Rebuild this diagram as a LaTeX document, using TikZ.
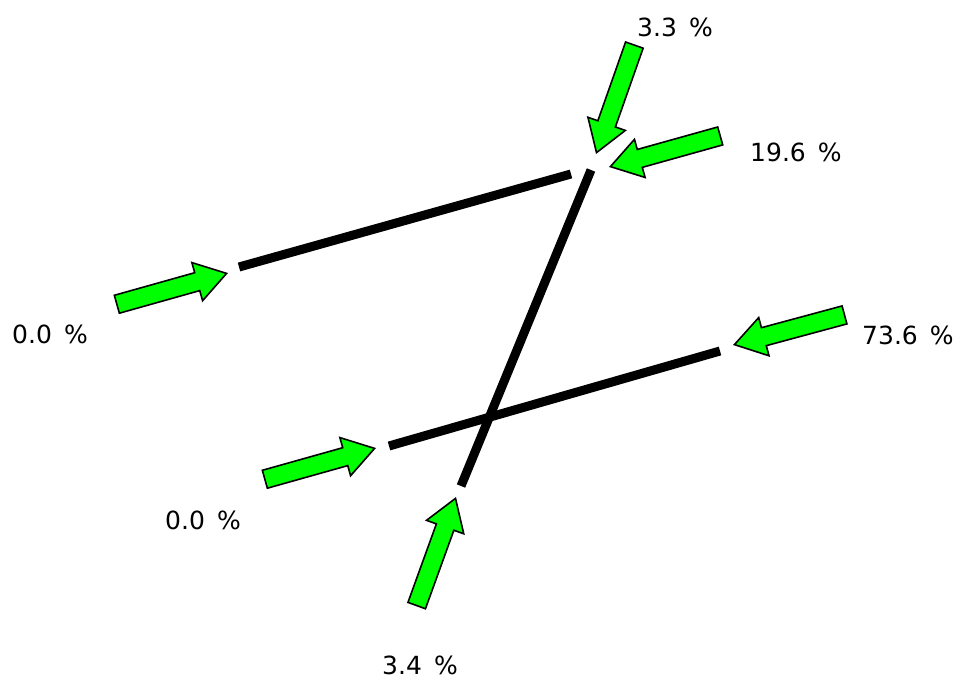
\documentclass[tikz,border=0pt]{standalone}
\usepackage{fontspec}
\setmainfont{DejaVu Sans}
\usetikzlibrary{shapes.arrows}

\begin{document}
\begin{tikzpicture}[
x=1pt, y=-1pt,
bar/.style={line width=9pt},
pointer/.style={single arrow, draw=black, line width=1.6pt, fill=arrowgreen,
  minimum height=114pt, inner sep=8.5pt, single arrow head extend=10.5pt,
  single arrow tip angle=66, anchor=tip},
share/.style={font=\fontsize{25}{30}\selectfont, inner sep=0pt}
]
\definecolor{arrowgreen}{RGB}{0,255,0}
\useasboundingbox (0,0) rectangle (960,680);

% bars
\coordinate (upA) at (239,267);
\coordinate (upB) at (571,174);
\coordinate (loA) at (389,446);
\coordinate (loB) at (720,351);
\coordinate (diA) at (591,170);
\coordinate (diB) at (461,486);

\draw[bar] (upA) -- (upB);
\draw[bar] (loA) -- (loB);
\draw[bar] (diA) -- (diB);

% arrows
\node[pointer, rotate=15.7] (inUp) at (228,273) {};
\node[pointer, rotate=250.6] (inTop) at (596,154) {};
\node[pointer, rotate=195.6] (inRight) at (609,167) {};
\node[pointer, rotate=195.1] (inLo) at (733,345) {};
\node[pointer, rotate=15.7] (inLeft) at (376,448) {};
\node[pointer, rotate=70.1] (inBot) at (456,497) {};

% labels
\node[share] (pTop) at (675,27) {3.3 \,\%};
\node[share] (pRight) at (796,152) {19.6 \,\%};
\node[share] (pUp) at (50,334) {0.0 \,\%};
\node[share] (pLo) at (908,335) {73.6 \,\%};
\node[share] (pLeft) at (203,520) {0.0 \,\%};
\node[share] (pBot) at (420,665) {3.4 \,\%};

\end{tikzpicture}
\end{document}
